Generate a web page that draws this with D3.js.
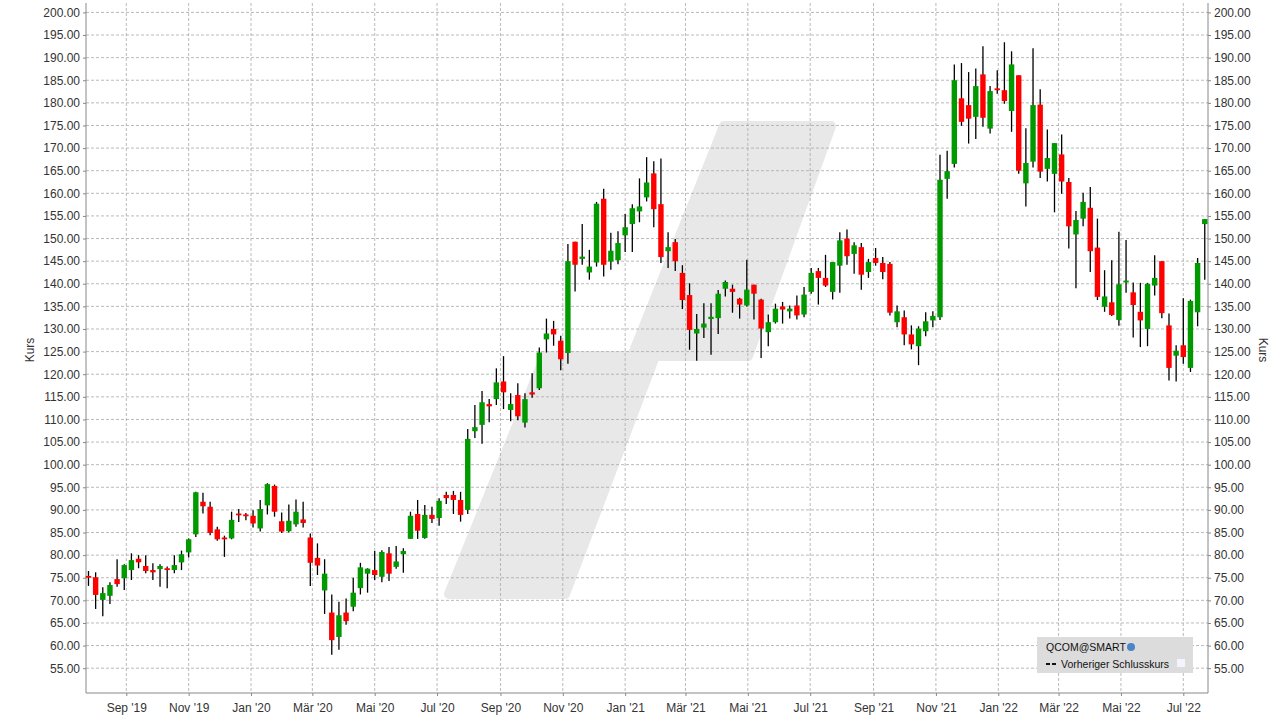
<!DOCTYPE html>
<html><head><meta charset="utf-8">
<script src="https://cdn.jsdelivr.net/npm/d3@7"></script>
<style>body{margin:0;background:#fff}text{font-family:"Liberation Sans",Arial,sans-serif}</style>
</head><body><svg id="c" width="1281" height="721"></svg>
<script>
const startDate = new Date(2019,6,26);
const opens  = [75.4,75.1,70.1,71.0,74.7,74.9,76.7,79.2,77.6,76.7,76.9,77.1,76.7,78.4,80.6,84.6,91.8,90.7,85.7,83.9,83.7,89.2,89.0,88.7,85.9,91.0,95.3,87.5,85.3,86.8,87.9,83.9,79.4,72.2,67.3,61.9,67.3,68.6,72.7,75.9,76.7,75.2,80.4,77.4,80.2,83.6,89.1,83.8,88.9,88.2,93.3,93.3,92.2,90.0,107.4,108.8,113.4,114.5,118.4,112.1,115.4,109.3,116.0,116.9,127.7,130.0,127.4,124.7,149.3,145.5,142.5,144.7,158.8,144.9,145.2,150.7,153.2,156.0,159.1,164.4,157.6,147.2,149.2,142.4,137.5,129.0,130.3,132.2,132.4,138.9,138.9,136.7,135.2,139.8,136.5,129.3,131.5,135.0,133.9,135.2,133.2,138.2,142.8,141.3,138.2,144.0,150.0,146.6,148.1,142.6,145.7,144.6,144.4,131.5,132.6,128.8,126.2,129.5,131.9,132.6,163.2,166.5,181.0,179.5,176.9,186.3,174.3,183.2,182.8,178.2,186.1,162.2,167.0,179.6,165.4,164.3,168.6,162.5,150.9,154.4,156.8,148.0,134.9,135.9,132.0,140.3,138.1,133.8,130.0,139.6,145.0,130.8,124.1,126.4,121.4,133.7,153.2];
const highs  = [76.5,76.2,72.9,74.0,79.1,78.0,80.4,80.0,80.0,78.2,78.0,77.5,80.0,81.0,83.7,94.0,93.8,91.8,86.3,84.3,89.6,90.2,89.3,89.9,92.2,95.9,95.6,89.4,91.2,92.3,91.8,84.8,82.6,79.1,71.3,69.7,70.4,75.0,78.3,77.1,80.9,81.1,81.8,82.0,81.5,89.6,92.2,91.1,90.7,92.6,94.0,94.2,94.0,107.9,113.2,116.3,114.5,121.3,124.0,115.8,118.0,115.8,120.2,125.9,132.3,131.8,128.5,148.8,149.3,153.2,147.5,158.1,161.0,151.3,151.6,155.4,157.6,163.3,168.0,167.1,167.7,151.4,149.9,144.1,140.1,133.3,135.7,135.7,138.6,140.7,139.8,136.9,145.3,139.8,136.7,133.2,135.6,136.0,135.2,137.4,139.3,143.5,143.5,146.4,144.8,151.4,152.0,149.2,149.0,145.5,147.9,145.9,144.8,135.2,134.1,130.8,130.6,133.7,133.9,168.5,169.4,188.5,188.8,186.8,187.6,192.5,183.7,187.2,193.4,191.4,186.1,174.4,192.1,183.0,174.1,171.1,173.0,163.4,156.1,160.1,161.4,154.4,143.0,145.2,151.5,149.7,140.3,140.2,140.2,146.3,145.0,133.4,126.4,136.8,136.5,145.7,154.3];
const lows   = [73.2,68.1,66.5,69.2,73.0,72.3,74.5,77.1,76.0,74.5,73.0,72.7,76.0,76.7,79.5,84.0,89.2,84.4,83.2,79.6,83.5,87.3,87.7,86.1,85.2,89.0,88.5,84.9,85.0,86.3,86.1,73.2,75.6,67.0,58.0,59.1,64.6,67.6,71.3,71.7,74.5,74.0,74.3,77.0,76.1,83.6,83.6,83.6,87.1,86.5,91.3,89.1,87.4,89.1,105.9,104.6,109.4,113.2,112.3,109.6,109.8,108.2,114.8,116.5,124.8,126.3,120.9,122.3,138.3,144.2,140.9,143.8,141.6,143.1,144.3,147.0,147.0,153.6,158.2,152.5,144.6,143.5,142.8,134.4,125.4,123.0,128.0,124.3,128.9,137.2,133.6,132.3,135.0,132.1,123.6,126.2,131.2,131.2,132.3,132.1,132.6,137.8,135.4,139.3,136.5,138.0,144.2,142.2,138.7,141.3,144.0,141.0,133.0,130.4,126.4,125.5,122.0,128.4,130.4,132.0,158.8,165.7,174.9,171.0,172.0,174.7,173.2,182.0,179.8,173.6,164.3,157.1,165.7,163.4,162.6,155.8,159.9,147.8,139.0,152.7,142.6,136.4,133.8,132.9,130.7,138.0,128.1,126.0,126.2,137.4,132.4,118.6,118.4,122.3,120.5,130.6,140.9];
const closes = [75.0,71.2,71.6,73.4,73.6,77.8,78.9,78.4,76.5,76.2,77.6,76.7,77.8,80.2,83.5,93.9,90.8,84.9,83.5,83.5,87.8,88.8,88.6,87.0,90.2,95.7,89.6,85.2,87.6,89.6,87.1,78.3,77.7,75.9,61.2,66.7,65.4,71.7,77.3,77.0,75.6,80.7,75.9,78.6,80.9,88.7,85.4,88.9,88.0,92.0,92.6,92.2,88.9,105.7,108.3,113.8,112.9,118.2,116.0,113.4,110.7,114.5,115.5,124.8,129.0,128.8,123.3,145.0,144.2,146.0,143.8,157.7,144.2,147.3,149.0,152.5,156.7,157.1,162.4,156.5,145.9,148.1,145.0,136.4,129.8,130.0,131.2,132.7,137.8,140.4,138.2,135.4,138.7,137.8,130.1,131.5,134.5,134.3,134.5,133.0,137.6,142.4,141.3,139.6,144.8,149.6,146.1,148.5,142.0,144.8,144.6,142.6,133.6,133.9,128.8,126.6,130.1,131.7,132.9,163.0,164.9,185.0,175.8,176.5,183.7,176.7,182.6,182.9,180.4,188.5,165.0,166.7,179.5,164.8,167.8,171.1,162.6,152.7,154.1,158.1,147.2,137.1,137.2,133.1,139.9,140.7,135.3,131.9,140.0,141.3,133.5,121.4,125.2,123.8,136.2,144.6,154.3];
const yTicks = d3.range(55, 200.01, 5);
const xTickDates = [[2019,8],[2019,10],[2020,0],[2020,2],[2020,4],[2020,6],[2020,8],[2020,10],[2021,0],[2021,2],[2021,4],[2021,6],[2021,8],[2021,10],[2022,0],[2022,2],[2022,4],[2022,6]];
const monthNames = ["Jan","Feb","Mär","Apr","Mai","Jun","Jul","Aug","Sep","Okt","Nov","Dez"];

const data = opens.map((o,i)=>({date:d3.timeDay.offset(startDate,7*i),o,h:highs[i],l:lows[i],c:closes[i]}));
const L=86,R=1208,T=3,B=693;
const y = d3.scaleLinear().domain([55,200]).range([668.2,12.4]);
const x = d3.scaleTime().domain([new Date(2019,8,1),new Date(2022,6,1)]).range([126.3,1183.3]);
const svg = d3.select("#c");

svg.append("path").attr("d","M724,126L831,126L748,356L655,356L565,594L449,594L545,356L632,356Z")
  .attr("fill","#e8e8e8").attr("stroke","#e8e8e8").attr("stroke-width",10).attr("stroke-linejoin","round");

const g = svg.append("g");
g.selectAll(".hg").data(yTicks).join("line").attr("x1",L).attr("x2",R).attr("y1",d=>y(d)).attr("y2",d=>y(d))
 .attr("stroke","#a8a8a8").attr("stroke-dasharray","3,2").attr("stroke-width",0.8);
const xt = xTickDates.map(([yy,m])=>new Date(yy,m,1));
g.selectAll(".vg").data(xt).join("line").attr("y1",T).attr("y2",B).attr("x1",d=>x(d)).attr("x2",d=>x(d))
 .attr("stroke","#a8a8a8").attr("stroke-dasharray","3,2").attr("stroke-width",0.8);

const fmt = d3.format(".2f");
const ya = svg.append("g").attr("transform",`translate(${L},0)`).call(d3.axisLeft(y).tickValues(yTicks).tickFormat(fmt).tickSize(3));
const yb = svg.append("g").attr("transform",`translate(${R},0)`).call(d3.axisRight(y).tickValues(yTicks).tickFormat(fmt).tickSize(3));
const xa = svg.append("g").attr("transform",`translate(0,${B})`).call(d3.axisBottom(x).tickValues(xt).tickFormat(d=>monthNames[d.getMonth()]+" '"+String(d.getFullYear()).slice(2)).tickSize(3));
[ya,yb,xa].forEach(a=>{a.select(".domain").remove();a.selectAll("text").attr("font-size",12).attr("fill","#333").style("font-family","Liberation Sans, Arial");a.selectAll("line").attr("stroke","#888");});
xa.selectAll("text").attr("dy","1.1em");
svg.append("line").attr("x1",L).attr("x2",L).attr("y1",T).attr("y2",B).attr("stroke","#888");
svg.append("line").attr("x1",R).attr("x2",R).attr("y1",T).attr("y2",B).attr("stroke","#888");
svg.append("line").attr("x1",L).attr("x2",R).attr("y1",B).attr("y2",B).attr("stroke","#888");
svg.append("text").attr("transform","translate(34,350) rotate(-90)").attr("text-anchor","middle").attr("font-size",12).attr("fill","#333").text("Kurs");
svg.append("text").attr("transform","translate(1259,350) rotate(90)").attr("text-anchor","middle").attr("font-size",12).attr("fill","#333").text("Kurs");

const cg = svg.append("g");
cg.selectAll(".w").data(data).join("line").attr("x1",d=>x(d.date)).attr("x2",d=>x(d.date))
 .attr("y1",d=>y(d.h)).attr("y2",d=>y(d.l)).attr("stroke","#000").attr("stroke-width",1.3);
cg.selectAll(".b").data(data).join("rect").attr("x",d=>x(d.date)-2.7).attr("width",5.4)
 .attr("y",d=>y(Math.max(d.o,d.c))).attr("height",d=>Math.max(1.8,Math.abs(y(d.o)-y(d.c))))
 .attr("fill",d=>d.c>=d.o?"#009900":"#ff0000");

const lg = svg.append("g");
lg.append("rect").attr("x",1037).attr("y",637).attr("width",156).attr("height",36).attr("fill","#dcdcdc");
lg.append("text").attr("x",1046).attr("y",651).attr("font-size",10.5).attr("fill","#111").text("QCOM@SMART");
lg.append("circle").attr("cx",1131).attr("cy",647).attr("r",4).attr("fill","#4a86c5");
lg.append("line").attr("x1",1046).attr("x2",1057).attr("y1",664).attr("y2",664).attr("stroke","#111").attr("stroke-width",2).attr("stroke-dasharray","4,2");
lg.append("text").attr("x",1061).attr("y",668).attr("font-size",10.5).attr("fill","#111").text("Vorheriger Schlusskurs");
lg.append("rect").attr("x",1177).attr("y",659).attr("width",8).attr("height",8).attr("fill","#f4f4ff");
</script></body></html>
